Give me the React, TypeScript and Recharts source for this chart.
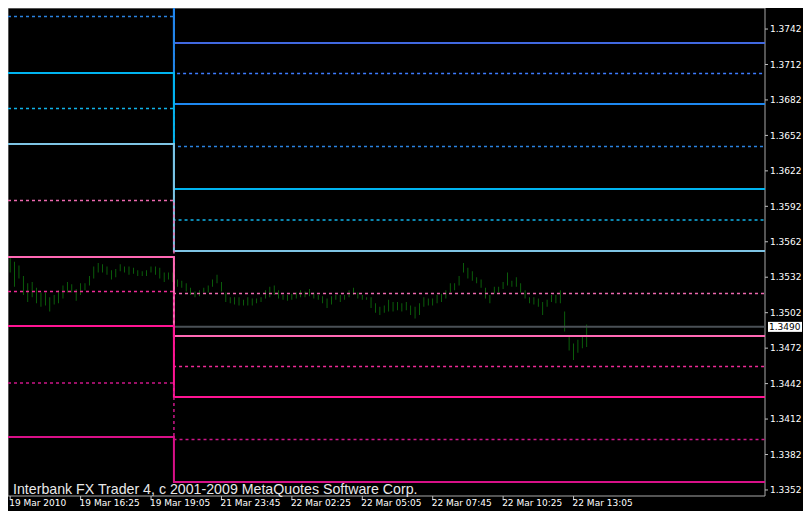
import React from "react"
import { ComposedChart, Bar, Line, XAxis, YAxis, ReferenceLine, ReferenceArea } from "recharts"

// 10-minute bars, EURUSD-like quotes
const highs = [
  1.3549, 1.3545, 1.3542, 1.3533, 1.3527, 1.3528, 1.3523, 1.3519, 1.3519, 1.3515,
  1.3517, 1.3521, 1.3525, 1.3528, 1.3526, 1.3522, 1.3527, 1.3527, 1.3533, 1.3541,
  1.3544, 1.3543, 1.3541, 1.3538, 1.3539, 1.3543, 1.3541, 1.3541, 1.354, 1.3538,
  1.3537, 1.3538, 1.3541, 1.3541, 1.354, 1.3536, 1.3536, 1.3536, 1.353, 1.3529,
  1.3527, 1.3523, 1.352, 1.3521, 1.3523, 1.3525, 1.353, 1.3534, 1.3528, 1.3519,
  1.3515, 1.3515, 1.3515, 1.3513, 1.3515, 1.3514, 1.3514, 1.3515, 1.3521, 1.3524,
  1.3525, 1.3521, 1.3517, 1.3517, 1.3518, 1.3519, 1.3521, 1.352, 1.3522, 1.3519,
  1.3517, 1.3516, 1.3514, 1.3516, 1.3517, 1.3517, 1.3517, 1.3521, 1.3523, 1.3519,
  1.3517, 1.3515, 1.3515, 1.351, 1.3507, 1.3508, 1.3513, 1.3511, 1.3511, 1.351,
  1.3511, 1.3508, 1.3507, 1.351, 1.3515, 1.3514, 1.3514, 1.3517, 1.3518, 1.3521,
  1.3527, 1.3527, 1.3533, 1.3544, 1.354, 1.3537, 1.3532, 1.353, 1.3523, 1.3517,
  1.3524, 1.3524, 1.3528, 1.3536, 1.3529, 1.3532, 1.3527, 1.3521, 1.3515, 1.3515,
  1.3514, 1.3511, 1.3513, 1.3517, 1.3517, 1.3521, 1.3503, 1.3483, 1.3476, 1.3479,
  1.3482, 1.3492,
]
const lows = [
  1.3536, 1.3524, 1.3531, 1.3517, 1.3511, 1.3515, 1.351, 1.3507, 1.3508, 1.3503,
  1.3509, 1.351, 1.3514, 1.3519, 1.3519, 1.3512, 1.3517, 1.3521, 1.3525, 1.3531,
  1.3536, 1.3536, 1.3534, 1.353, 1.3532, 1.3537, 1.3536, 1.3534, 1.3535, 1.3533,
  1.3533, 1.3533, 1.3536, 1.3534, 1.3531, 1.3528, 1.353, 1.3528, 1.3524, 1.3523,
  1.352, 1.3517, 1.3515, 1.3516, 1.3519, 1.3519, 1.3524, 1.3527, 1.352, 1.3511,
  1.351, 1.3509, 1.3508, 1.3508, 1.3508, 1.3508, 1.351, 1.3511, 1.3514, 1.3515,
  1.3517, 1.3514, 1.3513, 1.3512, 1.3513, 1.3514, 1.3515, 1.3515, 1.3516, 1.3514,
  1.3513, 1.351, 1.3506, 1.3509, 1.3513, 1.3511, 1.3513, 1.3515, 1.3517, 1.3514,
  1.3513, 1.3513, 1.3506, 1.3502, 1.35, 1.3502, 1.3503, 1.3503, 1.3504, 1.3503,
  1.3504, 1.35, 1.3497, 1.35, 1.3507, 1.3508, 1.3508, 1.351, 1.3511, 1.3514,
  1.3519, 1.3521, 1.3525, 1.3536, 1.3531, 1.3529, 1.3527, 1.3523, 1.3514, 1.351,
  1.3518, 1.3519, 1.3522, 1.3525, 1.3524, 1.3524, 1.3519, 1.3514, 1.351, 1.3509,
  1.3507, 1.35, 1.3507, 1.3511, 1.351, 1.351, 1.3486, 1.347, 1.3462, 1.3468,
  1.3472, 1.3473,
]

// pivot levels: previous session (Friday) and new session (Monday)
const levelNames = ["R3", "M5", "R2", "M4", "R1", "M3", "P", "M2", "S1", "M1", "S2", "M0", "S3"]
const fridayLevels = [1.38604, 1.38304, 1.38004, 1.37526, 1.37048, 1.36747, 1.36447, 1.35969, 1.35491, 1.35199, 1.34907, 1.34425, 1.33968]
const mondayLevels = [1.37302, 1.37044, 1.36786, 1.36426, 1.36066, 1.35804, 1.35542, 1.35182, 1.34823, 1.34565, 1.34307, 1.33947, 1.33588]
const dayBreak = 37.2 // session change, in bar slots
const lastPrice = 1.349

const timeLabels = ["19 Mar 2010", "19 Mar 16:25", "19 Mar 19:05", "21 Mar 23:45", "22 Mar 02:25", "22 Mar 05:05", "22 Mar 07:45", "22 Mar 10:25", "22 Mar 13:05"]
const timeSlots = [0, 16, 32, 48, 64, 80, 96, 112, 128]
const priceTicks = [1.3352, 1.3382, 1.3412, 1.3442, 1.3472, 1.3502, 1.3532, 1.3562, 1.3592, 1.3622, 1.3652, 1.3682, 1.3712, 1.3742]

const xMin = -0.5
const xMax = 171.5
const yMin = 1.33469
const yMax = 1.37598

const levelColors = ["#4169e1", "#3d7cff", "#1e88f0", "#2a82e0", "#00b4f0", "#10b4ea", "#7ec4e4", "#ec68ae", "#ff69b4", "#ee2a96", "#ff1493", "#cc1688", "#d81088"]
const levelDotted = [false, true, false, true, false, true, false, true, false, true, false, true, false]

const barRows = highs.map((h, i) => ({ x: i, high: h, low: lows[i] }))

const levelRows = [xMin, dayBreak, dayBreak, xMax].map((x, k) => {
  const src = k < 2 ? fridayLevels : mondayLevels
  const row: Record<string, number> = { x }
  levelNames.forEach((n, j) => (row[n] = src[j]))
  return row
})

const axisFont = "DejaVu Sans, Tahoma, sans-serif"

function TimeTick(props: any) {
  const { x, y, payload } = props
  const idx = timeSlots.indexOf(payload.value)
  return (
    <text x={x - 1} y={y} dy="0.71em" textAnchor="start" fill="#ffffff" fontSize={9} fontFamily={axisFont}>
      {timeLabels[idx]}
    </text>
  )
}

function PriceTag(props: any) {
  const { viewBox } = props
  if (!viewBox) return null
  const x = viewBox.x + viewBox.width + 3
  const y = viewBox.y
  return (
    <g>
      <rect x={x} y={y - 5} width={34} height={10} fill="#ffffff" />
      <text x={x + 1} y={y} dy="0.35em" fill="#000000" fontSize={9} fontFamily={axisFont}>
        {lastPrice.toFixed(4)}
      </text>
    </g>
  )
}

export default function App() {
  return (
    <div style={{ position: "absolute", left: 8, top: 8, width: 795, height: 503, background: "#000" }}>
      <ComposedChart width={795} height={503} data={barRows} margin={{ top: 0, right: 0, left: 0, bottom: 0 }}>
        <XAxis
          dataKey="x"
          type="number"
          domain={[xMin, xMax]}
          allowDataOverflow
          ticks={timeSlots}
          interval={0}
          height={15}
          axisLine={false}
          tickLine={{ stroke: "#c0c0c0" }}
          tickSize={4}
          tickMargin={0}
          tick={<TimeTick />}
        />
        <YAxis
          orientation="right"
          width={38}
          domain={[yMin, yMax]}
          allowDataOverflow
          ticks={priceTicks}
          interval={0}
          axisLine={false}
          tickLine={{ stroke: "#c0c0c0" }}
          tickSize={3}
          tickMargin={2}
          tickFormatter={(v: number) => v.toFixed(4)}
          tick={{ fill: "#ffffff", fontSize: 9, fontFamily: axisFont }}
        />
        <ReferenceArea x1={xMin} x2={xMax} y1={yMin} y2={yMax} fill="none" stroke="#a8a8a8" strokeWidth={1} />
        <ReferenceLine
          segment={[{ x: dayBreak, y: lastPrice }, { x: xMax, y: lastPrice }]}
          stroke="#4a5056"
          strokeWidth={2}
          label={<PriceTag />}
        />
        <Bar dataKey={(d: any) => [d.low, d.high]} fill="#0d750d" barSize={3} isAnimationActive={false} />
        {levelNames.map((n, j) => (
          <Line
            key={n}
            data={levelRows}
            dataKey={n}
            type="linear"
            stroke={levelColors[j]}
            strokeWidth={levelDotted[j] ? 1.5 : 2}
            strokeDasharray={levelDotted[j] ? "3 3" : undefined}
            dot={false}
            activeDot={false}
            isAnimationActive={false}
          />
        ))}
      </ComposedChart>
      <div
        style={{
          position: "absolute",
          left: 5,
          top: 474,
          color: "#e8e8e8",
          fontFamily: "Liberation Sans, Arial, sans-serif",
          fontSize: 14.2,
          lineHeight: "15px",
          whiteSpace: "nowrap",
        }}
      >
        Interbank FX Trader 4, c 2001-2009 MetaQuotes Software Corp.
      </div>
    </div>
  )
}
